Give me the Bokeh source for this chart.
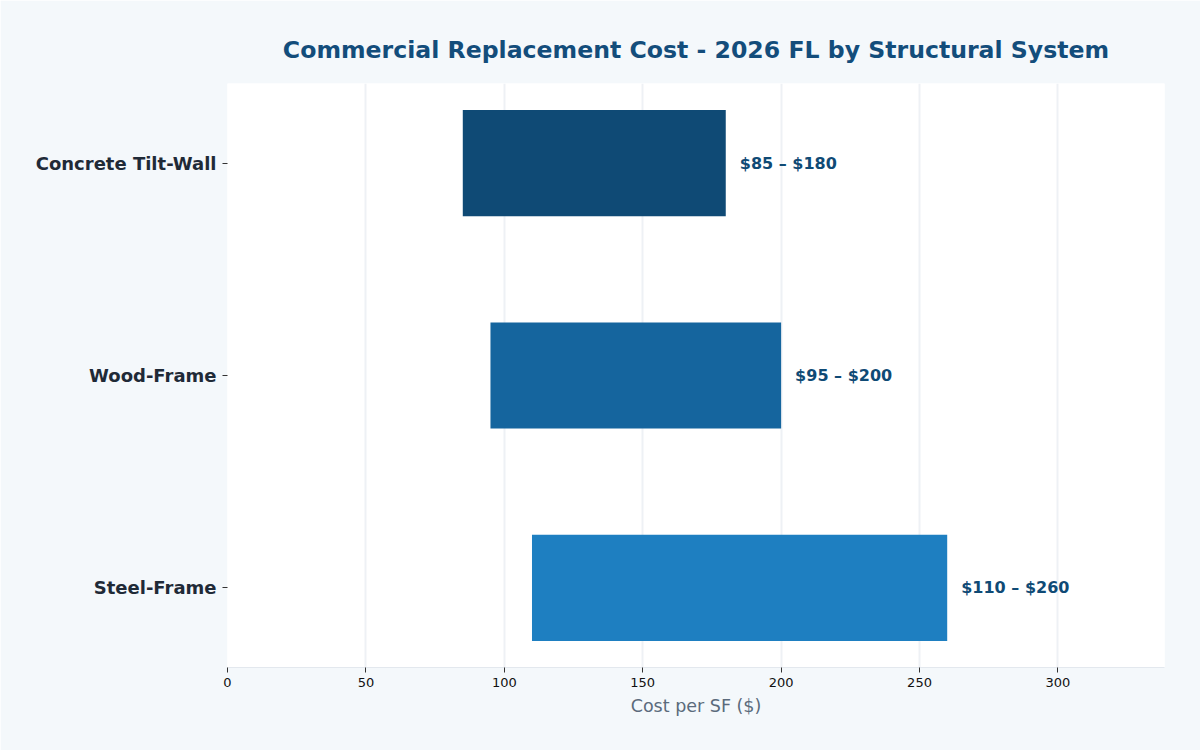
from bokeh.plotting import figure
from bokeh.models import ColumnDataSource, FactorRange, Range1d
from bokeh.core.properties import value
from bokeh.embed import file_html
from bokeh.resources import INLINE

systems = ["Steel-Frame", "Wood-Frame", "Concrete Tilt-Wall"]
low = [110, 95, 85]
high = [260, 200, 180]
colors = ["#1e7fc1", "#15659e", "#0f4a75"]
labels = [f"${a} \u2013 ${b}" for a, b in zip(low, high)]

src = ColumnDataSource(dict(sys=systems, low=low, high=high, color=colors, label=labels))

yr = FactorRange(factors=systems, range_padding=-0.125, range_padding_units="absolute")
p = figure(width=1200, height=750, y_range=yr, x_range=Range1d(0, 338.5),
           output_backend="svg", toolbar_location=None,
           min_border_left=227, min_border_right=36, min_border_top=83, min_border_bottom=83)

p.background_fill_color = "#ffffff"
p.border_fill_color = "#f4f8fb"
p.outline_line_color = None

p.hbar(y="sys", left="low", right="high", height=0.5, color="color", source=src, line_color=None)
p.text(x="high", y="sys", text="label", source=src, x_offset=14,
       text_baseline="middle", text_align="left", text_font=value("DejaVu Sans"),
       text_font_style="bold", text_font_size="16px", text_color="#0f4a75")

p.title.text = "Commercial Replacement Cost - 2026 FL by Structural System"
p.title.align = "center"
p.title.text_font = "DejaVu Sans"
p.title.text_font_size = "23.6px"
p.title.text_font_style = "bold"
p.title.text_color = "#134d7b"
p.title.standoff = 40

p.xaxis.axis_label = "Cost per SF ($)"
p.xaxis.axis_label_text_font = "DejaVu Sans"
p.xaxis.axis_label_text_font_style = "normal"
p.xaxis.axis_label_text_font_size = "17.5px"
p.xaxis.axis_label_text_color = "#5b6b7c"
p.xaxis.axis_label_standoff = 6
p.xaxis.major_label_text_font = "DejaVu Sans"
p.xaxis.major_label_text_font_size = "13px"
p.xaxis.major_label_text_color = "#111111"
p.xaxis.axis_line_color = "#e3e8ee"
p.xaxis.major_tick_line_color = "#333333"
p.xaxis.major_tick_in = 0
p.xaxis.major_tick_out = 5
p.xaxis.minor_tick_line_color = None
p.xaxis.ticker = [0, 50, 100, 150, 200, 250, 300]

p.yaxis.axis_line_color = None
p.yaxis.major_tick_line_color = "#333333"
p.yaxis.major_tick_in = 0
p.yaxis.major_tick_out = 5
p.yaxis.major_label_text_font = "DejaVu Sans"
p.yaxis.major_label_text_font_size = "18px"
p.yaxis.major_label_text_font_style = "bold"
p.yaxis.major_label_text_color = "#1f2a37"
p.yaxis.major_label_standoff = 6

p.xgrid.grid_line_color = "#eef1f5"
p.xgrid.grid_line_width = 2
p.ygrid.grid_line_color = None

open("out.html", "w").write(file_html(p, INLINE))
